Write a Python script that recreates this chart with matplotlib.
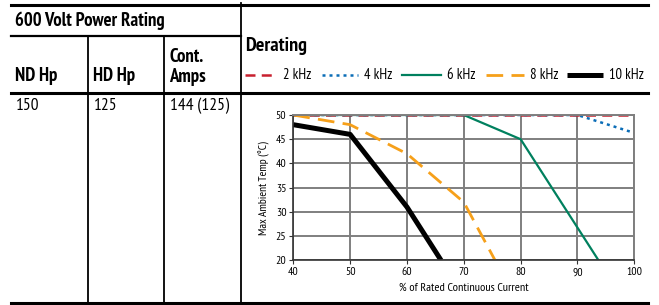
import matplotlib
matplotlib.use("Agg")
import matplotlib.pyplot as plt
from matplotlib.lines import Line2D

W, H = 659, 305

plt.rcParams["font.family"] = ["PT Sans Narrow", "Fira Sans Condensed", "DejaVu Sans"]

# data
title = "600 Volt Power Rating"
col_heads = ["ND Hp", "HD Hp", "Cont.\nAmps"]
row_vals = ["150", "125", "144 (125)"]

series_names = ["2 kHz", "4 kHz", "6 kHz", "8 kHz", "10 kHz"]
x_2k = [40, 100]
y_2k = [50, 50]
x_4k = [40, 90, 100]
y_4k = [50, 50, 46.3]
x_6k = [40, 70, 80, 93.7]
y_6k = [50, 50, 45, 20]
x_8k = [40, 50, 60, 70, 75.5]
y_8k = [50, 48, 42, 32, 20]
x_10k = [40, 50, 60, 66]
y_10k = [48, 46, 31, 20]

x_ticks = [40, 50, 60, 70, 80, 90, 100]
y_ticks = [20, 25, 30, 35, 40, 45, 50]

# line styles, one per series
styles = [
    dict(color="#c8202f", lw=1.8, dashes=(4, 2.5)),
    dict(color="#0b6db7", lw=1.8, dashes=(1.2, 1.6)),
    dict(color="#00805e", lw=1.6),
    dict(color="#f6a01a", lw=2.0, dashes=(6, 3)),
    dict(color="black", lw=3.6, solid_capstyle="butt"),
]


def fx(px):
    return px / W


def fy(py):
    return 1 - py / H


def hline(y, x0, x1, lw=1.6):
    fig.add_artist(Line2D([fx(x0), fx(x1)], [fy(y), fy(y)], color="black", lw=lw))


def vline(x, y0, y1, lw=1.3):
    fig.add_artist(Line2D([fx(x), fx(x)], [fy(y0), fy(y1)], color="black", lw=lw))


fig = plt.figure(figsize=(W / 100, H / 100), dpi=100)

# table frame
hline(5, 11, 648, lw=2.2)
hline(36, 11, 241)
hline(93, 11, 648, lw=2.2)
hline(303, 11, 648, lw=2.2)
vline(241, 3, 303)
vline(88, 36, 303)
vline(164, 36, 303)

fig.text(fx(15), fy(21), title, fontsize=13.5, fontweight="bold", va="center")
col_x = [15, 93, 169]
fig.text(fx(col_x[0]), fy(76), col_heads[0], fontsize=13.5, fontweight="bold", va="center")
fig.text(fx(col_x[1]), fy(76), col_heads[1], fontsize=13.5, fontweight="bold", va="center")
fig.text(fx(col_x[2]), fy(67), col_heads[2], fontsize=13.5, fontweight="bold", va="center",
         linespacing=1.1)
for cx, v in zip(col_x, row_vals):
    fig.text(fx(cx + 1), fy(106), v, fontsize=12.5, va="center")

fig.text(fx(245), fy(46), "Derating", fontsize=14.5, fontweight="bold", va="center")

# chart
ax = fig.add_axes([fx(293.3), fy(260.3), fx(634.3) - fx(293.3), (260.3 - 115) / H])
xs = [x_2k, x_4k, x_6k, x_8k, x_10k]
ys = [y_2k, y_4k, y_6k, y_8k, y_10k]
for x, y, st, nm in zip(xs, ys, styles, series_names):
    ax.plot(x, y, label=nm, **st)

ax.set_xlim(40, 100)
ax.set_ylim(20, 50)
ax.set_xticks(x_ticks)
ax.set_yticks(y_ticks)
ax.grid(True, color="#7f7f7f", lw=1.4)
ax.set_axisbelow(True)
for s in ["top", "right"]:
    ax.spines[s].set_color("#7f7f7f")
    ax.spines[s].set_linewidth(1.4)
for s in ["left", "bottom"]:
    ax.spines[s].set_color("#333333")
    ax.spines[s].set_linewidth(1.2)
ax.tick_params(labelsize=8.5, length=3, width=0.8, pad=2, color="#333333")
ax.set_xlabel("% of Rated Continuous Current", fontsize=8.7, labelpad=4)
ax.set_ylabel("Max Ambient Temp (°C)", fontsize=8.3, labelpad=4)

# legend in header row
leg_lines = [(245, 277), (322, 358), (402, 441), (486, 524), (567, 603)]
for (x0, x1), st, nm in zip(leg_lines, styles, series_names):
    fig.add_artist(Line2D([fx(x0), fx(x1)], [fy(75), fy(75)], **st))
    fig.text(fx(x1 + 6), fy(75), nm, fontsize=10.5, va="center")

fig.savefig("out.png", dpi=100)
